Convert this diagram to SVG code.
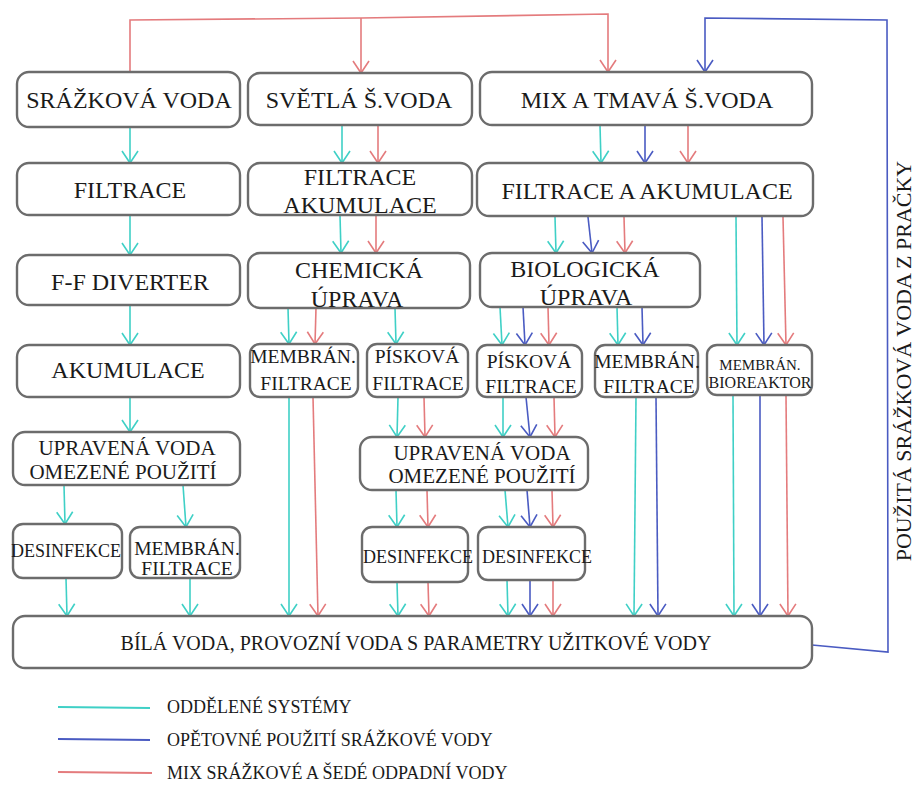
<svg xmlns="http://www.w3.org/2000/svg" width="918" height="787" viewBox="0 0 918 787">
<style>
.box{fill:#fff;stroke:#6c6c6c;stroke-width:2.4}
.t{font-family:"Liberation Serif","Times New Roman",serif;fill:#1a1a1a;text-anchor:middle}
.f24{font-size:24px}.f21{font-size:21px}.f20{font-size:20px}.f19{font-size:19.5px}.f18{font-size:18px}.f16{font-size:16px}.f15{font-size:15px}
.c{stroke:#3fd0c6;fill:none;stroke-width:1.6;marker-end:url(#ac)}
.b{stroke:#4a5bc2;fill:none;stroke-width:1.6;marker-end:url(#ab)}
.r{stroke:#e47b7d;fill:none;stroke-width:1.6;marker-end:url(#ar)}
.lg{fill:none;stroke-width:2}
</style>
<defs>
<marker id="ac" viewBox="-14 -10 16 20" refX="0" refY="0" markerWidth="16" markerHeight="20" orient="auto" markerUnits="userSpaceOnUse"><path d="M-12,-8 L0,0 L-12,8" fill="none" stroke="#3fd0c6" stroke-width="1.6"/></marker>
<marker id="ab" viewBox="-14 -10 16 20" refX="0" refY="0" markerWidth="16" markerHeight="20" orient="auto" markerUnits="userSpaceOnUse"><path d="M-12,-8 L0,0 L-12,8" fill="none" stroke="#4a5bc2" stroke-width="1.6"/></marker>
<marker id="ar" viewBox="-14 -10 16 20" refX="0" refY="0" markerWidth="16" markerHeight="20" orient="auto" markerUnits="userSpaceOnUse"><path d="M-12,-8 L0,0 L-12,8" fill="none" stroke="#e47b7d" stroke-width="1.6"/></marker>
</defs>
<rect width="918" height="787" fill="#fff"/>

<g id="connectors">
<path class="r" d="M130,74 V20 L361,18 L608,14 V72"/>
<path class="r" d="M361,18 V73"/>
<path class="b" d="M812,645 L888,652 L887,20 L705,18 V72"/>

<path class="c" d="M130,127 V163"/>
<path class="c" d="M130,215 V255"/>
<path class="c" d="M130,305 V345"/>
<path class="c" d="M130,397 V432"/>
<path class="c" d="M64,485 L65,524"/>
<path class="c" d="M183,485 L186,527"/>
<path class="c" d="M66,578 L67,616"/>
<path class="c" d="M190,578 V616"/>

<path class="c" d="M342,125 V163"/>
<path class="r" d="M378,125 V163"/>
<path class="c" d="M340,215 L341,253"/>
<path class="r" d="M376,215 V253"/>
<path class="c" d="M288,308 L289,344"/>
<path class="r" d="M316,308 L315,344"/>
<path class="c" d="M395,308 L396,344"/>
<path class="c" d="M289,397 V616"/>
<path class="r" d="M313,397 L318,616"/>
<path class="c" d="M398,397 L397,437"/>
<path class="r" d="M424,397 L425,437"/>
<path class="c" d="M396,490 L397,527"/>
<path class="r" d="M427,490 L428,527"/>
<path class="c" d="M397,582 L398,616"/>
<path class="r" d="M428,582 L429,616"/>

<path class="c" d="M600,125 L601,163"/>
<path class="b" d="M645,125 V163"/>
<path class="r" d="M688,125 V163"/>
<path class="c" d="M555,217 L556,253"/>
<path class="b" d="M588,217 L592,253"/>
<path class="r" d="M624,217 L625,253"/>
<path class="c" d="M736,217 L737,345"/>
<path class="b" d="M762,217 L764,345"/>
<path class="r" d="M783,217 L786,345"/>
<path class="c" d="M500,307 L502,345"/>
<path class="b" d="M523,307 L525,345"/>
<path class="r" d="M548,307 L549,345"/>
<path class="c" d="M617,307 L618,345"/>
<path class="b" d="M642,307 L643,345"/>
<path class="c" d="M503,397 V437"/>
<path class="b" d="M526,397 L530,437"/>
<path class="r" d="M554,397 L555,437"/>
<path class="c" d="M505,490 L508,527"/>
<path class="b" d="M527,490 L530,527"/>
<path class="r" d="M552,490 L553,527"/>
<path class="c" d="M507,580 L508,616"/>
<path class="b" d="M530,580 V616"/>
<path class="r" d="M553,580 V616"/>
<path class="c" d="M636,397 L634,616"/>
<path class="b" d="M656,397 L658,616"/>
<path class="c" d="M733,395 L734,616"/>
<path class="b" d="M760,395 V616"/>
<path class="r" d="M786,395 L788,616"/>
</g>

<g id="srazkova"><rect class="box" x="17" y="72" width="223" height="55" rx="12"/><text class="t f24" x="129" y="108">SRÁŽKOVÁ VODA</text></g>
<g id="svetla"><rect class="box" x="248" y="73" width="224" height="52" rx="12"/><text class="t f24" x="359" y="108">SVĚTLÁ Š.VODA</text></g>
<g id="mix"><rect class="box" x="480" y="72" width="332" height="53" rx="12"/><text class="t f24" x="647" y="108">MIX A TMAVÁ Š.VODA</text></g>

<g id="filtrace1"><rect class="box" x="17" y="163" width="223" height="52" rx="12"/><text class="t f24" x="130" y="198">FILTRACE</text></g>
<g id="filtrace2"><rect class="box" x="248" y="163" width="224" height="52" rx="12"/><text class="t f24" x="360" y="185">FILTRACE</text><text class="t f24" x="360" y="213">AKUMULACE</text></g>
<g id="filtrace3"><rect class="box" x="477" y="163" width="336" height="53" rx="12"/><text class="t f24" x="647" y="199">FILTRACE A AKUMULACE</text></g>

<g id="ffdiverter"><rect class="box" x="17" y="255" width="223" height="50" rx="12"/><text class="t f24" x="130" y="290">F-F DIVERTER</text></g>
<g id="chemicka"><rect class="box" x="248" y="253" width="222" height="55" rx="12"/><text class="t f24" x="359" y="278">CHEMICKÁ</text><text class="t f24" x="357" y="307">ÚPRAVA</text></g>
<g id="biologicka"><rect class="box" x="480" y="253" width="220" height="54" rx="12"/><text class="t f24" x="585" y="277">BIOLOGICKÁ</text><text class="t f24" x="586" y="305">ÚPRAVA</text></g>

<g id="akumulace"><rect class="box" x="17" y="345" width="223" height="52" rx="12"/><text class="t f24" x="128" y="378">AKUMULACE</text></g>
<g id="membran1"><rect class="box" x="250" y="344" width="108" height="53" rx="10"/><text class="t f19" x="303" y="363">MEMBRÁN.</text><text class="t f19" x="306" y="390">FILTRACE</text></g>
<g id="piskova1"><rect class="box" x="367" y="344" width="101" height="53" rx="10"/><text class="t f19" x="417" y="363">PÍSKOVÁ</text><text class="t f19" x="418" y="390">FILTRACE</text></g>
<g id="piskova2"><rect class="box" x="477" y="345" width="105" height="52" rx="10"/><text class="t f19" x="529" y="368">PÍSKOVÁ</text><text class="t f19" x="531" y="393">FILTRACE</text></g>
<g id="membran2"><rect class="box" x="595" y="345" width="103" height="52" rx="10"/><text class="t f19" x="647" y="368">MEMBRÁN.</text><text class="t f19" x="649" y="393">FILTRACE</text></g>
<g id="bioreaktor"><rect class="box" x="707" y="345" width="105" height="50" rx="10"/><text class="t f15" x="760" y="370">MEMBRÁN.</text><text class="t f16" x="760" y="388">BIOREAKTOR</text></g>

<g id="upravena1"><rect class="box" x="13" y="432" width="227" height="53" rx="12"/><text class="t f21" x="127" y="455">UPRAVENÁ VODA</text><text class="t f21" x="123" y="479">OMEZENÉ POUŽITÍ</text></g>
<g id="upravena2"><rect class="box" x="360" y="437" width="228" height="53" rx="12"/><text class="t f21" x="482" y="460">UPRAVENÁ VODA</text><text class="t f21" x="482" y="483">OMEZENÉ POUŽITÍ</text></g>

<g id="desinfekce1"><rect class="box" x="13" y="524" width="109" height="54" rx="10"/><text class="t f18" x="66" y="557">DESINFEKCE</text></g>
<g id="membran3"><rect class="box" x="130" y="527" width="110" height="51" rx="10"/><text class="t f19" x="187" y="555">MEMBRÁN.</text><text class="t f19" x="187" y="575">FILTRACE</text></g>
<g id="desinfekce2"><rect class="box" x="362" y="527" width="106" height="55" rx="10"/><text class="t f18" x="418" y="563">DESINFEKCE</text></g>
<g id="desinfekce3"><rect class="box" x="478" y="527" width="107" height="53" rx="10"/><text class="t f18" x="537" y="563">DESINFEKCE</text></g>

<g id="bila"><rect class="box" x="13" y="616" width="799" height="52" rx="12"/><text class="t f20" x="416" y="650">BÍLÁ VODA, PROVOZNÍ VODA S PARAMETRY UŽITKOVÉ VODY</text></g>

<g id="side-label"><text class="t" style="font-size:22px" x="0" y="0" transform="translate(911,361) rotate(-90)">POUŽITÁ SRÁŽKOVÁ VODA Z PRAČKY</text></g>

<g id="legend">
<path class="lg" d="M58,707 L150,708" stroke="#3fd0c6"/>
<path class="lg" d="M58,739 L150,740" stroke="#4a5bc2"/>
<path class="lg" d="M58,772 L152,773" stroke="#e47b7d"/>
<text class="t" style="font-size:18px;text-anchor:start" x="167" y="713">ODDĚLENÉ SYSTÉMY</text>
<text class="t" style="font-size:18px;text-anchor:start" x="167" y="746">OPĚTOVNÉ POUŽITÍ SRÁŽKOVÉ VODY</text>
<text class="t" style="font-size:18px;text-anchor:start" x="167" y="779">MIX SRÁŽKOVÉ A ŠEDÉ ODPADNÍ VODY</text>
</g>
</svg>
